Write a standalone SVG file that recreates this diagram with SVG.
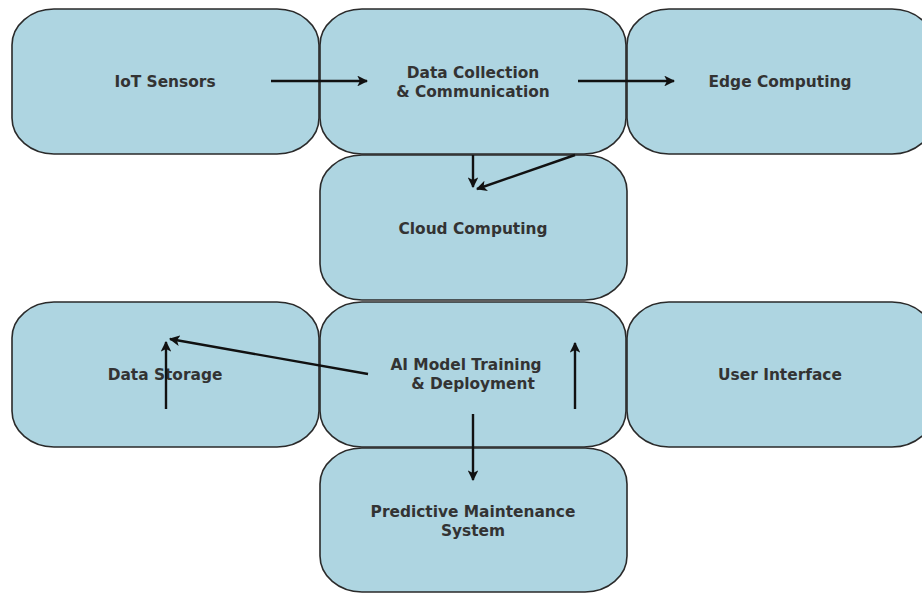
<svg xmlns="http://www.w3.org/2000/svg" width="922" height="593" viewBox="0 0 922 593">
<defs>
<style>
.box{fill:#aed5e1;stroke:#2a2a2a;stroke-width:1.6}
.lbl{font-family:"DejaVu Sans",sans-serif;font-weight:bold;font-size:15.4px;fill:#333;text-anchor:middle}
.ln{stroke:#111;stroke-width:2.4;fill:none;marker-end:url(#ah)}
</style>
<marker id="ah" viewBox="0 0 10 10" refX="9" refY="5" markerWidth="4.5" markerHeight="4.5" orient="auto" markerUnits="strokeWidth">
<path d="M0,0 L10,5 L0,10 L2.5,5 z" fill="#111"/>
</marker>
</defs>
<rect width="922" height="593" fill="#fff"/>
<g id="iot"><rect class="box" x="12" y="9" width="307" height="145" rx="42" ry="36"/><text class="lbl" x="165" y="87">IoT Sensors</text></g>
<g id="collect"><rect class="box" x="320" y="9" width="306" height="145" rx="42" ry="36"/><text class="lbl" x="473" y="78">Data Collection</text><text class="lbl" x="473" y="97">&amp; Communication</text></g>
<g id="edge"><rect class="box" x="627" y="9" width="307" height="145" rx="42" ry="36"/><text class="lbl" x="780" y="87">Edge Computing</text></g>
<g id="cloud"><rect class="box" x="320" y="155" width="307" height="145" rx="42" ry="36"/><text class="lbl" x="473" y="234">Cloud Computing</text></g>
<g id="storage"><rect class="box" x="12" y="302" width="307" height="145" rx="42" ry="36"/><text class="lbl" x="165" y="380">Data Storage</text></g>
<g id="ai"><rect class="box" x="320" y="302" width="306" height="145" rx="42" ry="36"/><text class="lbl" x="466" y="370">AI Model Training</text><text class="lbl" x="473" y="389">&amp; Deployment</text></g>
<g id="ui"><rect class="box" x="627" y="302" width="307" height="145" rx="42" ry="36"/><text class="lbl" x="780" y="380">User Interface</text></g>
<g id="predict"><rect class="box" x="320" y="448" width="307" height="144" rx="42" ry="36"/><text class="lbl" x="473" y="517">Predictive Maintenance</text><text class="lbl" x="473" y="536">System</text></g>
<g id="connectors">
<line class="ln" x1="271" y1="81" x2="367" y2="81"/>
<line class="ln" x1="578" y1="81" x2="674" y2="81"/>
<line class="ln" x1="473" y1="155" x2="473" y2="187"/>
<line class="ln" x1="575" y1="155" x2="477" y2="189"/>
<line class="ln" x1="368" y1="374" x2="170" y2="339"/>
<line class="ln" x1="166" y1="409" x2="166" y2="342"/>
<line class="ln" x1="575" y1="409" x2="575" y2="343"/>
<line class="ln" x1="473" y1="414" x2="473" y2="480"/>
</g>
</svg>
